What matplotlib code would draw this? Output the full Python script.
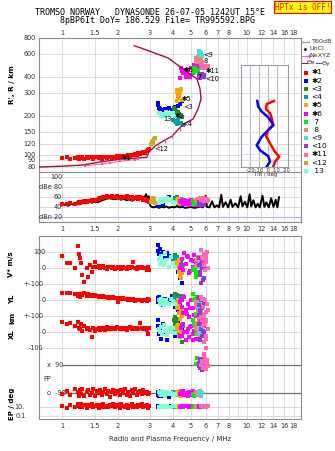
import matplotlib
matplotlib.use("Agg")
import matplotlib.pyplot as plt
import matplotlib.transforms as mtransforms
from matplotlib.ticker import NullLocator
import numpy as np

# ---------------- data ----------------
freq_ticks_top = [1, 1.5, 2, 3, 4, 5, 6, 7, 8, 10, 12, 14, 16, 18]
freq_ticks_mid = [1, 1.5, 2, 3, 4, 5, 6, 7, 8, 9, 10, 12, 14, 16, 18]
height_ticks = [80, 90, 100, 120, 150, 200, 300, 400, 600, 800]

echo_colors = ["#ff0000", "#0000ff", "#228b22", "#00a0a0", "#ffa500", "#ff00ff", "#00ee00",
               "#f08080", "#40e0d0", "#9933dd", "#ff69b4", "#daa520", "#7fffd4"]
echo_tags = ["✱1", "✱2", "<3", "<4", "✱5", "✱6", " 7", " 8", "<9", "<10", "✱11", "<12", " 13"]

echo_freq = [
    [1.00, 1.06, 1.11, 1.18, 1.22, 1.24, 1.25, 1.27, 1.29, 1.32, 1.36, 1.39, 1.42, 1.45, 1.48, 1.51, 1.54,
     1.58, 1.61, 1.64, 1.67, 1.71, 1.75, 1.78, 1.82, 1.86, 1.90, 1.94, 1.98, 2.02, 2.06, 2.10, 2.15, 2.20,
     2.24, 2.29, 2.33, 2.38, 2.43, 2.48, 2.54, 2.59, 2.65, 2.70, 2.76, 2.82, 2.88, 2.93, 2.97],
    [3.30, 3.33, 3.36, 3.40, 3.45, 3.52, 3.60, 3.70, 3.82, 3.95, 4.10, 4.25, 4.38, 4.48],
    [4.02, 4.08, 4.15, 4.22, 4.30, 4.38, 4.45, 4.12, 4.26],
    [4.00, 4.08, 4.15, 4.25, 4.32, 4.42, 4.50, 4.20],
    [4.18, 4.22, 4.28, 4.32, 4.36, 4.40, 4.25, 4.30, 4.45, 4.20],
    [4.40, 4.45, 4.50, 4.60, 4.70, 4.80, 4.90, 5.00, 5.10, 5.20, 5.30, 5.40, 5.50, 4.38, 4.75, 4.95, 5.15, 5.35],
    [5.15, 5.25, 5.30, 5.35, 5.40, 5.45, 5.20],
    [5.30, 5.40, 5.45, 5.55, 5.60, 5.70, 5.75, 5.35],
    [5.50, 5.55, 5.60, 5.65, 5.70, 5.75],
    [5.50, 5.55, 5.60, 5.65, 5.70, 5.75, 5.80, 5.85, 5.90, 5.62, 5.72, 5.82],
    [5.70, 5.80, 5.85, 5.90, 5.95, 6.00, 6.05, 6.10, 6.15, 5.75, 5.88, 6.02],
    [3.05, 3.08, 3.10, 3.13, 3.16, 3.20],
    [3.35, 3.40, 3.45, 3.50, 3.55, 3.60, 3.70, 3.80, 3.90, 4.00, 4.10, 3.65],
]
echo_height = [
    [94, 95, 93, 94, 96, 93, 95, 94, 96, 93, 95, 94, 96, 95, 93, 95, 96, 94, 95, 93, 96, 95, 94, 96, 95,
     94, 96, 95, 97, 96, 95, 97, 96, 98, 97, 99, 98, 100, 99, 101, 100, 102, 101, 103, 104, 103, 106, 108, 111],
    [252, 240, 230, 224, 222, 220, 226, 224, 228, 222, 232, 236, 246, 258],
    [228, 222, 218, 210, 205, 200, 196, 212, 215],
    [185, 182, 178, 184, 176, 174, 170, 172],
    [318, 305, 312, 295, 300, 322, 285, 272, 265, 262],
    [470, 440, 430, 455, 400, 455, 415, 470, 430, 490, 450, 500, 480, 395, 420, 400, 445, 465],
    [460, 465, 455, 440, 445, 450, 435],
    [560, 520, 575, 530, 565, 545, 525, 540],
    [630, 600, 625, 595, 615, 585],
    [410, 400, 395, 405, 415, 420, 400, 410, 398, 418, 402, 412],
    [490, 480, 465, 470, 485, 475, 468, 478, 488, 472, 482, 466],
    [120, 125, 122, 128, 132, 134],
    [208, 210, 198, 205, 204, 200, 206, 202, 210, 208, 200, 212],
]
echo_vstar = [
    [79, 31, 31, 4, 141, 89, 62, 31, -42, -84, 0, -52, 21, -21, 10, 41, 8, 12, 2, 10, 14, 5, -4, 6, 10,
     2, 8, -6, 4, 10, 6, -2, 8, 4, -6, 10, 2, 6, 41, 4, -2, 8, 2, 6, 0, 4, -8, 6, -12],
    [110, 145, 90, 120, 75, 100, 64, 95, 80, 70, 30, -20, -60, -92],
    [60, 83, 40, 70, 25, 50, 8, 35, 55],
    [60, 75, 45, 55, 30, 40, 20, 65],
    [40, 10, -20, 52, -45, -60, 25, -5, -30, 15],
    [20, 60, -10, 95, 30, 70, -30, 50, 10, 85, -20, 40, 65, 5, 75, -15, 45, 25],
    [-10, 2, -30, -52, -20, -40, 0],
    [50, 20, 70, 8, 40, 30, 60, 15],
    [30, 10, 45, 20, 0, 35],
    [64, 20, -40, 30, -92, 0, 50, -60, 10, -20, 40, -75],
    [114, 60, 90, 20, -11, 80, 40, 100, 5, 70, 30, 50],
    [],
    [60, 30, 80, 45, 20, 95, 55, 10, 70, 35, 8, 50],
]
echo_yl = [
    [48, 46, 48, 38, 30, 40, 22, 42, 35, 44, 30, 40, 28, 32, 25, 34, 26, 22, 28, 20, 24, 18, 22, 16, 20,
     15, 18, 12, 16, -10, 14, 10, 12, 8, 10, 5, 8, 2, 6, -4, 4, 0, 3, -2, 2, 0, -4, 8, 2],
    [15, -10, 20, -25, 5, -30, 10, -15, 0, 25, -40, -60, -20, 10],
    [30, 42, 15, 35, 5, 25, 0, 38, 20],
    [10, 20, 0, 15, -5, 5, 25, 12],
    [-10, -40, -80, -20, -115, -60, 0, -30, -95, -50],
    [10, -40, -80, 20, -60, -20, -105, 0, -50, -90, -30, 15, -70, -10, -85, -45, 5, -100],
    [42, 10, -30, -83, 20, -50, 0],
    [-10, -40, -70, -100, -25, -55, -85, -30],
    [-20, -40, -10, -60, -30, -50],
    [20, -30, -80, 0, -105, -50, 10, -20, -90, -60, 5, -40],
    [20, -40, -100, -145, 0, -70, -120, -20, -60, 10, -90, -130],
    [],
    [0, -20, 10, -10, -30, 5, -15, -25, 8, -5, -20, 2],
]
echo_xl = [
    [62, 55, 58, 40, 66, 28, 20, 50, 8, 38, 20, 30, 12, -29, 25, 8, 18, 30, 12, 22, 28, 15, 35, 20, 26,
     18, 30, 22, 35, 25, 18, 30, 22, 28, 15, 25, 32, 20, 27, 18, 30, 22, 56, 25, 20, 28, 17, -8, 30],
    [40, 75, -10, 20, -40, 55, 0, -50, 30, 10, -20, 60, -30, 15],
    [80, 96, 60, 70, 45, 38, -60, 55, 85],
    [20, 35, 10, 25, 0, 15, 40, 30],
    [40, 10, -20, 30, -29, 0, 44, 20, -10, 25],
    [30, -20, 54, 0, -50, 20, -30, 40, -10, 10, -40, 50, 25, -25, 5, 35, -45, 15],
    [75, 40, -8, 20, 60, 10, 50],
    [60, 20, -10, 75, -29, 40, 0, 30],
    [10, 30, -10, 20, 0, 15],
    [106, 50, -50, 20, 80, -20, 60, 0, 40, -40, 90, 10],
    [96, 40, -60, -133, 60, -20, -100, -175, 20, 80, -150, -40],
    [],
    [20, 0, 35, -10, 44, 10, -19, 25, 5, 30, -5, 15],
]
echo_pp = [
    [-95, -75, -100, -60, -85, -110, -70, -92, -65, -105, -80, -72, -98, -88, -62, -108, -78, -90, -70,
     -100, -84, -66, -95, -75, -112, -82, -68, -96, -74, -88, -104, -70, -86, -62, -98, -80, -110, -72,
     -90, -66, -100, -84, -76, -94, -68, -88, -80, -92, -86],
    [-80, -100, -110, -90, -78, -105, -95, -85, -112, -88, -92, -80, -98, -75],
    [-88, -95, -80, -100, -85, -92, -78, -104, -90],
    [-85, -95, -80, -100, -90, -75, -88, -96],
    [-90, -82, -100, -95, -78, -105, -88, -92, -85, -98],
    [-85, -95, -78, -100, -90, -110, -82, -92, -75, -105, -88, -98, -80, -94, -86, -102, -76, -90],
    [-95, -100, 95, -88, 134, -92, -105],
    [-80, -95, -88, -100, -75, -110, -90, -85],
    [-90, -85, -95, -80, -100, -88],
    [85, 100, 70, 120, 90, 60, 110, 95, 75, 130, 88, 105],
    [90, 70, 110, 80, 125, 95, 65, 100, 85, 115, 75, 105],
    [],
    [-85, -95, -100, -78, -90, -110, -82, -96, -88, -104, -92, -80],
]
echo_ep = [
    [12, 6, 25, 9, 40, 15, 7, 30, 10, 18, 5, 22, 11, 35, 8, 14, 28, 6, 19, 10, 45, 9, 16, 7, 26,
     12, 38, 8, 20, 11, 6, 30, 14, 9, 24, 5, 17, 33, 10, 13, 7, 27, 11, 42, 8, 15, 21, 6, 12],
    [10, 14, 8, 12, 9, 16, 11, 10, 13, 9, 12, 15, 10, 11],
    [10, 12, 9, 11, 13, 10, 8, 12, 11],
    [11, 9, 13, 10, 12, 8, 11, 14],
    [10, 13, 9, 12, 11, 8, 14, 10, 12, 9],
    [10, 14, 9, 12, 11, 15, 8, 13, 10, 12, 9, 14, 11, 10, 13, 9, 12, 11],
    [10, 12, 9, 11, 13, 10, 8],
    [11, 9, 13, 10, 12, 14, 10, 8],
    [10, 12, 9, 11, 13, 10],
    [10, 12, 9, 14, 11, 13, 8, 10, 12, 9, 11, 13],
    [12, 10, 14, 9, 11, 13, 10, 12, 15, 11, 9, 13],
    [],
    [10, 7, 12, 9, 11, 8, 13, 10, 9, 12, 11, 8],
]
echo_amp = [
    [47, 46, 48, 47, 49, 50, 48, 51, 50, 52, 51, 53, 52, 54, 53, 55, 54, 56, 58, 59, 60, 61, 62, 61, 60,
     62, 61, 60, 62, 61, 60, 59, 61, 60, 62, 58, 61, 60, 57, 59, 61, 56, 60, 58, 55, 57, 52, 54, 50],
    [42, 48, 45, 50, 55, 47, 52, 58, 60, 56, 50, 46, 52, 44],
    [56, 58, 55, 60, 57, 52, 54, 59, 56],
    [52, 55, 58, 54, 50, 56, 53, 57],
    [48, 52, 55, 50, 46, 53, 57, 49, 51, 54],
    [50, 53, 47, 55, 49, 52, 45, 54, 48, 51, 46, 50, 44, 53, 47, 52, 49, 45],
    [52, 50, 48, 53, 49, 51, 47],
    [55, 52, 57, 54, 58, 53, 56, 55],
    [50, 48, 52, 49, 51, 47],
    [46, 50, 48, 52, 45, 49, 47, 51, 44, 50, 46, 48],
    [54, 56, 52, 58, 55, 53, 57, 52, 55, 54, 56, 53],
    [50, 55, 58, 52, 56, 49],
    [48, 52, 55, 50, 57, 53, 58, 54, 56, 51, 49, 55],
]
# label positions of the echo numbers on the ionogram (freq, height)
label_f = [2.10, 4.05, 4.55, 4.47, 4.45, 4.55, 5.45, 5.83, 5.83, 6.00, 6.03, 3.15, 3.55]
label_h = [94, 200, 232, 171, 269, 450, 398, 532, 591, 382, 444, 110, 190]

# model profile and NeXYZ profile
model_f = [0.75, 1.064, 1.30, 1.61, 2.06, 2.88, 2.95, 3.19, 3.53, 3.95, 4.53, 5.13, 5.46, 5.67, 5.60,
           5.39, 4.53, 3.76, 2.65, 2.46]
model_h = [80, 81.5, 83, 87.5, 92, 95, 104, 116, 127, 139, 172, 188, 225, 269, 322, 385, 460, 560, 673, 697]
nexyz_low_f = [1.33, 1.64, 1.82, 2.06, 2.29, 2.49, 2.59]
nexyz_low_h = [81.5, 84.4, 86.1, 88.7, 90.2, 91.4, 92.5]
nexyz_up_f = [3.33, 3.62, 3.93, 4.36, 4.64]
nexyz_up_h = [120, 127, 139, 157, 171]

# tilt profiles
tilt_x_h = [260, 246, 225, 209, 191, 169, 155, 139, 122, 105, 96, 88, 80.4]
tilt_x = [6.5, -1.6, -2.3, 2.1, 4, 5.7, 0.2, -2.3, 2.1, 7.6, 12.4, 7.6, 5.7]
tilt_y_h = [260, 235, 215, 194, 169, 155, 137, 118, 108, 97, 88, 80.4]
tilt_y = [-12, -10.9, -7.1, 0.2, 5.7, 0.2, -7.1, -12.6, -9, 0.2, 2.1, -1.6]

# noise level (dB) versus frequency
noise_f = [1.00, 1.04, 1.08, 1.12, 1.16, 1.20, 1.25, 1.30, 1.35, 1.40, 1.45, 1.50, 1.56, 1.62, 1.68,
           1.74, 1.80, 1.87, 1.94, 2.01, 2.08, 2.16, 2.24, 2.32, 2.41, 2.50, 2.59, 2.69, 2.78, 2.85,
           2.90, 2.95, 3.00, 3.06, 3.15, 3.25, 3.35, 3.45, 3.56, 3.68, 3.80, 3.92, 4.05, 4.20, 4.35,
           4.50, 4.65, 4.80, 5.00, 5.20, 5.40, 5.60, 5.80, 6.00, 6.10, 6.30, 6.50, 6.70, 6.90, 7.10,
           7.30, 7.45, 7.70, 7.95, 8.20, 8.40, 8.70, 9.00, 9.30, 9.50, 9.80, 10.1, 10.4, 10.6, 10.9,
           11.2, 11.5, 11.8, 12.2, 12.5, 12.8, 13.2, 13.6, 14.0, 14.4, 14.7, 15.0]
noise_db = [44, 46, 43, 47, 45, 48, 46, 50, 48, 51, 49, 52, 50, 53, 55,
            57, 58, 57, 56, 58, 55, 57, 54, 56, 53, 58, 55, 60, 56, 66,
            58, 62, 44, 41, 40, 42, 39, 41, 40, 42, 39, 41, 40, 42, 40,
            41, 39, 40, 41, 39, 40, 42, 40, 63, 41, 40, 52, 40, 44, 40,
            65, 41, 50, 40, 55, 41, 48, 40, 62, 42, 51, 40, 66, 42, 54,
            40, 47, 40, 63, 41, 50, 40, 58, 41, 55, 40, 60]

# ---------------- layout (pixels) ----------------
W, H = 335, 451
fig = plt.figure(figsize=(W / 100, H / 100), dpi=100)
pix = mtransforms.Affine2D().scale(1.0 / W, -1.0 / H).translate(0, 1) + fig.transFigure
grid_c = "#d6d6dc"
lab_c = "#303030"


def panel(l, t, r, b, ylog=False):
    a = fig.add_axes([l / W, 1 - b / H, (r - l) / W, (b - t) / H])
    a.set_xscale("log")
    if ylog:
        a.set_yscale("log")
    a.set_xlim(0.75, 19.74)
    for axis in (a.xaxis, a.yaxis):
        axis.set_major_locator(NullLocator())
        axis.set_minor_locator(NullLocator())
    for s in a.spines.values():
        s.set_color("#8c8c8c")
        s.set_linewidth(0.8)
    for f in freq_ticks_mid:
        a.axvline(f, color=grid_c, lw=0.6, zorder=0)
    return a


def ytext(a, x, yv, s, **kw):
    a.text(x, yv, s, transform=mtransforms.blended_transform_factory(pix, a.transData), **kw)


def xtext(a, f, y, s, **kw):
    a.text(f, y, s, transform=mtransforms.blended_transform_factory(a.transData, pix), **kw)


def ptext(x, y, s, **kw):
    fig.text(x / W, 1 - y / H, s, **kw)


def flab(v):
    return ("%g" % v)


# title
ptext(35, 12.5, "TROMSO NORWAY   DYNASONDE 26-07-05 1242UT 15°E", family="DejaVu Sans Mono",
      fontsize=6, ha="left", va="center")
ptext(60, 20.5, "8pBP6It DoY= 186.529 File= TR995592.BPG", family="DejaVu Sans Mono",
      fontsize=6, ha="left", va="center")
ptext(302.5, 7, "HPTx is OFF!", family="DejaVu Sans Mono", fontsize=5.6, color="red",
      ha="center", va="center",
      bbox=dict(boxstyle="square,pad=0.15", fc="#ffff00", ec="red", lw=0.8))

# ---------------- ionogram ----------------
ax = panel(39, 38, 301, 172, ylog=True)
ax.set_ylim(73.2, 800)
for h in height_ticks[:-1]:
    ax.axhline(h, color=grid_c, lw=0.6, zorder=0)
for h in height_ticks:
    ytext(ax, 35.5, h, str(h), fontsize=4.7, color=lab_c, ha="right", va="center")
for f in freq_ticks_top:
    xtext(ax, f, 33, flab(f), fontsize=4.7, color=lab_c, ha="center", va="center")
ptext(12, 85, "R', R / km", rotation=90, fontsize=5.2, fontweight="bold", ha="center", va="center")

ax.plot(model_f, model_h, color="#a3103c", lw=1.0, zorder=5)
ax.plot(nexyz_low_f, nexyz_low_h, color="#e0609a", lw=0.7, marker="s", ms=2, mew=0, zorder=5)
ax.plot(nexyz_up_f, nexyz_up_h, ls="none", color="#e0609a", marker="|", ms=3.5, mew=0.9, zorder=5)

for i in range(len(echo_freq)):
    ax.plot(echo_freq[i], echo_height[i], "s", ms=2.6, mew=0, color=echo_colors[i], zorder=3)
for i in range(len(echo_freq)):
    ax.text(label_f[i], label_h[i], echo_tags[i].strip(), fontsize=4.8, color="black",
            ha="left", va="center", zorder=6)

# tilt inset
tax = fig.add_axes([241 / W, 1 - 167 / H, 47 / W, 102 / H])
tax.set_yscale("log")
tax.set_xlim(-30, 22)
tax.set_ylim(80, 494)
for axis in (tax.xaxis, tax.yaxis):
    axis.set_major_locator(NullLocator())
    axis.set_minor_locator(NullLocator())
for s in tax.spines.values():
    s.set_color("#9a9aa8")
    s.set_linewidth(0.8)
for t in [-20, -10, 0, 10]:
    tax.axvline(t, color="#a8a8b4", lw=0.6, zorder=0)
for h in [90, 100, 120, 150, 200, 300, 400]:
    tax.axhline(h, color=grid_c, lw=0.6, zorder=0)
tax.plot(tilt_x, tilt_x_h, color="#ff0000", lw=1.8)
tax.plot(tilt_y, tilt_y_h, color="#0000ff", lw=1.8)
ptext(268, 170, "-20-10  0  10  20", fontsize=3.8, ha="center", va="center", color=lab_c, zorder=10)
ptext(266, 175, "Tilt / deg", fontsize=3.8, ha="center", va="center", color=lab_c, zorder=10)

# top-right legend
fig.add_artist(plt.Line2D([302 / W, 309 / W], [1 - 41.5 / H] * 2, color="#a0a0a0", lw=1))
ptext(311, 41.5, "T60dB", fontsize=4.6, ha="left", va="center", color=lab_c)
fig.add_artist(plt.Line2D([305 / W], [1 - 48.5 / H], marker="o", ms=1, color="black", ls="none"))
ptext(310, 48.5, "UnCl", fontsize=4.6, ha="left", va="center", color=lab_c)
fig.add_artist(plt.Line2D([302 / W, 309 / W], [1 - 55.5 / H] * 2, color="#e0609a", lw=0.6,
                          marker="+", markevery=[1], ms=3))
ptext(309, 55.5, "NeXYZ", fontsize=4.6, ha="left", va="center", color=lab_c)
fig.add_artist(plt.Line2D([301.5 / W, 306.5 / W], [1 - 63 / H] * 2, color="#a3103c", lw=0.8))
ptext(307, 63, "Θx", fontsize=4.6, ha="left", va="center", color=lab_c)
fig.add_artist(plt.Line2D([316 / W, 321 / W], [1 - 63 / H] * 2, color="#5050ff", lw=0.8))
ptext(321.5, 63, "Θy", fontsize=4.6, ha="left", va="center", color=lab_c)
for i in range(len(echo_tags)):
    yy = 72.5 + i * 8.2
    fig.add_artist(plt.Line2D([306 / W], [1 - yy / H], marker="s", ms=3, mew=0,
                              color=echo_colors[i], ls="none"))
    ptext(311.5, yy, echo_tags[i], fontsize=5.4, ha="left", va="center", color="black")

# ---------------- amplitude panel ----------------
ax2 = panel(39, 172, 301, 222)
ax2.set_ylim(11.1, 109.9)
for v in [100, 80, 60, 40]:
    ax2.axhline(v, color=grid_c, lw=0.6, zorder=0)
ax2.axhline(20, color="#b4b4e6", lw=0.8, zorder=0)
for v, s in zip([100, 80, 60, 40, 20], ["100", "dBe 80", "60", "40", "dBn 20"]):
    ytext(ax2, 62, v, s, fontsize=4.7, color=lab_c, ha="right", va="center")
ax2.plot(noise_f, noise_db, color="black", lw=1.4, zorder=2)
for i in range(len(echo_freq)):
    ax2.plot(echo_freq[i], echo_amp[i], "s", ms=2.6, mew=0, color=echo_colors[i], zorder=3)
for f in freq_ticks_mid:
    xtext(ax2, f, 229, flab(f), fontsize=4.7, color=lab_c, ha="center", va="center")

# ---------------- drift / polarization panel ----------------
ax3 = panel(39, 235.7, 301, 419)
ax3.set_ylim(-942, 204)
yl_shift, xl_shift = -200, -400        # stacked sub-scales inside one box
pp_mid, pp_gain = -692.5, 0.983
ep_mid, ep_gain = -895, 30
for v in [100, 0, -100, -200, -300, -400, -500, -865, -925]:
    ax3.axhline(v, color=grid_c, lw=0.6, zorder=0)
f1 = (np.log10(1) - np.log10(0.75)) / (np.log10(19.74) - np.log10(0.75))
ax3.axhline(pp_mid + pp_gain * 90, xmin=f1, color="#707070", lw=0.9, zorder=1)
ax3.axhline(pp_mid - pp_gain * 90, xmin=f1, color="#707070", lw=0.9, zorder=1)

for v, s, x in [(100, "100", 45.5), (0, "0", 45.5), (-100, "+-100", 43.5), (-200, "0", 45.5),
                (-300, "+-100", 43.5), (-400, "0", 45.5), (-500, "-100", 43.5)]:
    ytext(ax3, x, v, s, fontsize=4.7, color=lab_c, ha="right", va="center")
ytext(ax3, 47, pp_mid + pp_gain * 90, "x  90", fontsize=4.7, color=lab_c, ha="left", va="center")
ytext(ax3, 43, pp_mid, "PP", fontsize=4.7, color=lab_c, ha="left", va="center")
ytext(ax3, 47, pp_mid - pp_gain * 90, "o  -90", fontsize=4.7, color=lab_c, ha="left", va="center")
ytext(ax3, 24.5, ep_mid + ep_gain, "10.", fontsize=4.7, color=lab_c, ha="right", va="center")
ytext(ax3, 26, ep_mid - ep_gain, "0.1", fontsize=4.7, color=lab_c, ha="right", va="center")

ptext(11, 264, "V* m/s", rotation=90, fontsize=5, fontweight="bold", ha="center", va="center")
ptext(12, 299, "YL", rotation=90, fontsize=5, fontweight="bold", ha="center", va="center")
ptext(12, 318, "km", rotation=90, fontsize=5, fontweight="bold", ha="center", va="center")
ptext(12, 334, "XL", rotation=90, fontsize=5, fontweight="bold", ha="center", va="center")
ptext(12, 404, "EP / deg", rotation=90, fontsize=5, fontweight="bold", ha="center", va="center")

for i in range(len(echo_freq)):
    if not echo_vstar[i]:
        continue
    f = np.array(echo_freq[i])
    c = echo_colors[i]
    ax3.plot(f, np.array(echo_vstar[i]), "s", ms=2.3, mew=0, color=c, zorder=3)
    ax3.plot(f, np.array(echo_yl[i]) + yl_shift, "s", ms=2.3, mew=0, color=c, zorder=3)
    ax3.plot(f, np.array(echo_xl[i]) + xl_shift, "s", ms=2.3, mew=0, color=c, zorder=3)
    ax3.plot(f, pp_mid + pp_gain * np.array(echo_pp[i]), "s", ms=2.3, mew=0, color=c, zorder=3)
    ax3.plot(f, ep_mid + ep_gain * np.log10(echo_ep[i]), "s", ms=2.3, mew=0, color=c, zorder=3)

for f in freq_ticks_top:
    xtext(ax3, f, 425.7, flab(f), fontsize=4.7, color=lab_c, ha="center", va="center")
ptext(170, 439.5, "Radio and Plasma Frequency / MHz", fontsize=5, ha="center", va="center", color=lab_c)

fig.savefig("out.png", dpi=100)
